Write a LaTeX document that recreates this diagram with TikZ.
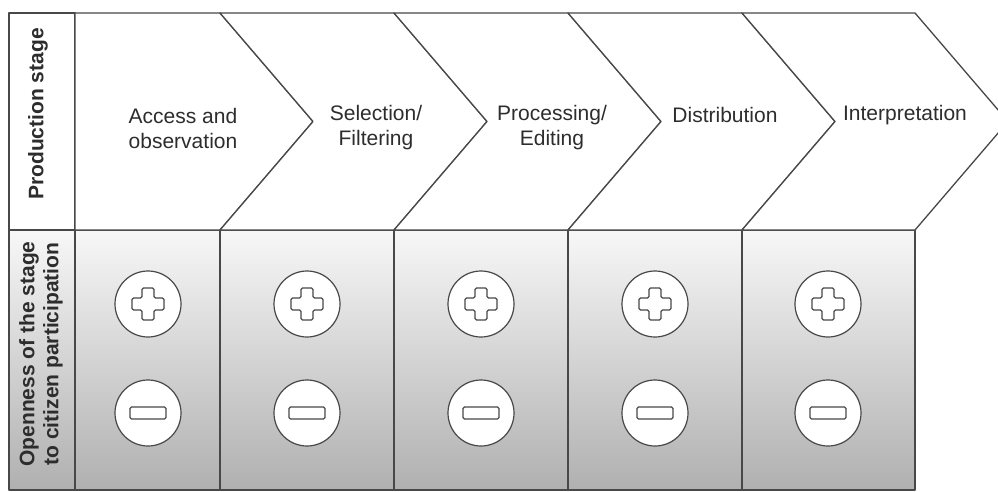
\documentclass[tikz,border=0pt]{standalone}
\usepackage{fontspec}
\setmainfont{Liberation Sans}
\definecolor{edge}{RGB}{72,72,72}
\definecolor{ink}{RGB}{45,45,45}
\begin{document}
\begin{tikzpicture}[x=1pt,y=-1pt,
    frame/.style={draw=edge,line width=1.3pt,line join=round},
    cell/.style={frame,top color=gray!6,bottom color=gray!62},
    stage/.style={align=center,text=ink,font=\fontsize{21}{25}\selectfont},
    rowlabel/.style={rotate=90,align=center,text=ink,font=\fontsize{21}{24}\selectfont\bfseries},
    sign/.style={circle,draw=edge,line width=1.2pt,fill=white,minimum size=66pt,inner sep=0pt},
    plus/.style={sign,path picture={
        \draw[edge,line width=1.1pt,rounded corners=1.5pt]
            (path picture bounding box.center) ++(-6,-16) -- ++(12,0) -- ++(0,10)
            -- ++(10,0) -- ++(0,12) -- ++(-10,0) -- ++(0,10) -- ++(-12,0)
            -- ++(0,-10) -- ++(-10,0) -- ++(0,-12) -- ++(10,0) -- cycle;}},
    minus/.style={sign,path picture={
        \draw[edge,line width=1.1pt,rounded corners=1.5pt]
            (path picture bounding box.center) ++(-18,-6) rectangle ++(36,12);}}]
    \useasboundingbox (0,0) rectangle (998,492);
    \clip (0,0) rectangle (998,492);

    % lower row
    \draw[cell] (9,230) rectangle (75,490);
    \draw[cell] (75,230) rectangle (220,490);
    \draw[cell] (220,230) rectangle (394,490);
    \draw[cell] (394,230) rectangle (568,490);
    \draw[cell] (568,230) rectangle (742,490);
    \draw[cell] (742,230) rectangle (915,490);

    % upper row
    \draw[frame,fill=white] (9,13) rectangle (75,230);
    \draw[frame,fill=white]
        (75,13) -- (220,13) -- (313,121.5) -- (220,230) -- (75,230) -- cycle;
    \draw[frame,fill=white]
        (220,13) -- (394,13) -- (487,121.5) -- (394,230) -- (220,230) -- (313,121.5) -- cycle;
    \draw[frame,fill=white]
        (394,13) -- (568,13) -- (661,121.5) -- (568,230) -- (394,230) -- (487,121.5) -- cycle;
    \draw[frame,fill=white]
        (568,13) -- (742,13) -- (835,121.5) -- (742,230) -- (568,230) -- (661,121.5) -- cycle;
    \draw[frame,fill=white]
        (742,13) -- (915,13) -- (1008,121.5) -- (915,230) -- (742,230) -- (835,121.5) -- cycle;

    \node[rowlabel] (prodlbl) at (38,114) {Production stage};
    \node[rowlabel] (openlbl) at (41,354) {Openness of the stage\\to citizen participation};

    \node[stage] (access) at (183,128) {Access and\\observation};
    \node[stage] (select) at (376,128) {Selection/\\Filtering};
    \node[stage] (process) at (552,128) {Processing/\\Editing};
    \node[stage] (distrib) at (725,115) {Distribution};
    \node[stage] (interp) at (905,115) {Interpretation};

    \node[plus] (plusA) at (148,304) {};
    \node[plus] (plusB) at (307,304) {};
    \node[plus] (plusC) at (481,304) {};
    \node[plus] (plusD) at (655,304) {};
    \node[plus] (plusE) at (828,304) {};

    \node[minus] (minusA) at (148,413) {};
    \node[minus] (minusB) at (307,413) {};
    \node[minus] (minusC) at (481,413) {};
    \node[minus] (minusD) at (655,413) {};
    \node[minus] (minusE) at (828,413) {};
\end{tikzpicture}
\end{document}
